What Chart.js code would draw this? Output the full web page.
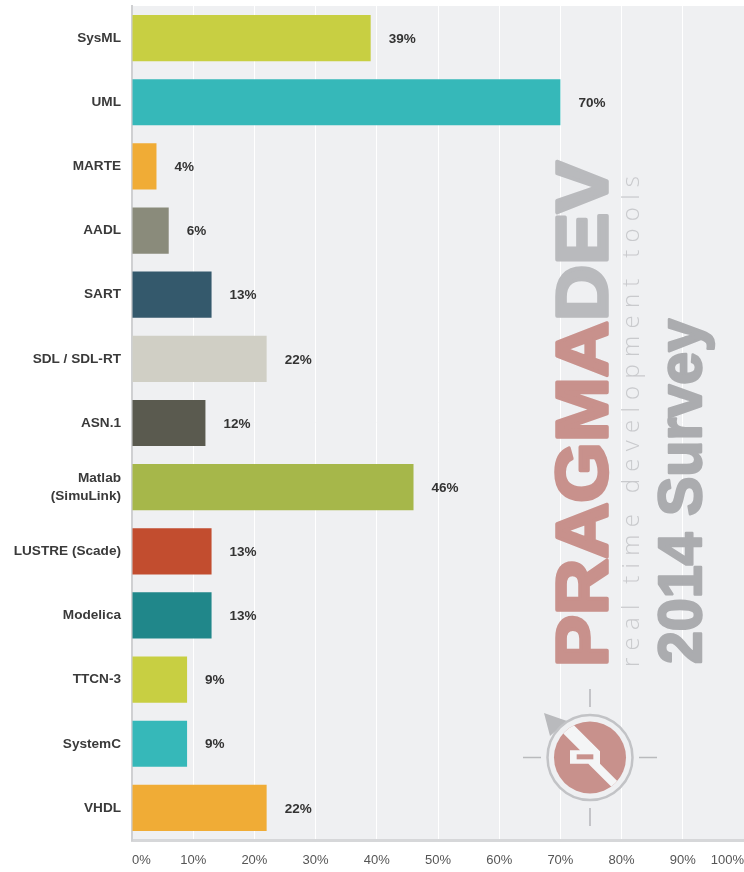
<!DOCTYPE html>
<html>
<head>
<meta charset="utf-8">
<script src="https://cdn.jsdelivr.net/npm/chart.js@4"></script>
<style>
  html, body { margin: 0; padding: 0; background: #ffffff; }
  #wrap { position: relative; width: 744px; height: 872px; }
</style>
</head>
<body>
<div id="wrap"><canvas id="c"></canvas></div>
<script>
// ---- data ----
const categories = ['SysML', 'UML', 'MARTE', 'AADL', 'SART', 'SDL / SDL-RT', 'ASN.1',
  ['Matlab', '(SimuLink)'], 'LUSTRE (Scade)', 'Modelica', 'TTCN-3', 'SystemC', 'VHDL'];
const values = [39, 70, 4, 6, 13, 22, 12, 46, 13, 13, 9, 9, 22];
const barColors = ['#c8cf42', '#36b8b9', '#f0ac36', '#8a8b7b', '#34596c', '#d0cfc5', '#5a5a4f',
  '#a6b74a', '#c24d2f', '#20878a', '#c8cf42', '#36b8b9', '#f0ac36'];
const xTickValues = [0, 10, 20, 30, 40, 50, 60, 70, 80, 90, 100];
const watermarkTitle = [['PRAGMA', '#c8918c'], ['DEV', '#b9babd']];
const watermarkTagline = 'real time development tools';
const watermarkSurvey = '2014 Survey';

const FONT = '"Liberation Sans", Arial, sans-serif';

function rotText(ctx, x, y, parts, font, targetLen, strokeW) {
  ctx.save();
  ctx.translate(x, y);
  ctx.rotate(-Math.PI / 2);
  ctx.font = font;
  ctx.textBaseline = 'alphabetic';
  ctx.textAlign = 'left';
  ctx.lineJoin = 'round';
  const full = parts.map(p => p[0]).join('');
  const w = ctx.measureText(full).width;
  ctx.scale(targetLen / w, 1);
  let off = 0;
  for (const [t, c] of parts) {
    ctx.fillStyle = c;
    ctx.strokeStyle = c;
    ctx.lineWidth = strokeW;
    ctx.fillText(t, off, 0);
    if (strokeW) ctx.strokeText(t, off, 0);
    off += ctx.measureText(t).width;
  }
  ctx.restore();
}

function spacedText(ctx, x, y, text, font, color, targetLen) {
  ctx.save();
  ctx.translate(x, y);
  ctx.rotate(-Math.PI / 2);
  ctx.font = font;
  ctx.fillStyle = color;
  ctx.textBaseline = 'alphabetic';
  ctx.textAlign = 'left';
  const chars = text.split('');
  const widths = chars.map(ch => ctx.measureText(ch).width);
  const sum = widths.reduce((a, b) => a + b, 0);
  const gap = (targetLen - sum) / (chars.length - 1);
  let off = 0;
  chars.forEach((ch, i) => { ctx.fillText(ch, off, 0); off += widths[i] + gap; });
  ctx.restore();
}

const bgPlugin = {
  id: 'plotBg',
  beforeDraw(chart) {
    const { ctx, chartArea: a } = chart;
    ctx.save();
    ctx.fillStyle = '#eff0f2';
    ctx.fillRect(a.left, a.top, a.right - a.left, a.bottom - a.top);
    ctx.restore();
  }
};

const watermarkPlugin = {
  id: 'watermark',
  beforeDatasetsDraw(chart) {
    const ctx = chart.ctx;
    rotText(ctx, 607, 667, watermarkTitle, 'bold 72px ' + FONT, 506, 3.5);
    spacedText(ctx, 639, 667, watermarkTagline, '300 24px "Open Sans", Lato, sans-serif', '#c9cacd', 491);
    rotText(ctx, 701, 664, [[watermarkSurvey, '#abacaf']], 'bold 62px ' + FONT, 345, 2.5);

    // logo
    const cx = 590, cy = 757.5;
    ctx.save();
    ctx.strokeStyle = '#b9babd';
    ctx.lineWidth = 1.6;
    ctx.beginPath();
    ctx.moveTo(cx, 689); ctx.lineTo(cx, 707);
    ctx.moveTo(cx, 808); ctx.lineTo(cx, 826);
    ctx.moveTo(523, cy); ctx.lineTo(541, cy);
    ctx.moveTo(639, cy); ctx.lineTo(657, cy);
    ctx.stroke();
    ctx.fillStyle = '#b9babd';
    ctx.beginPath();
    ctx.moveTo(544, 713); ctx.lineTo(567, 721); ctx.lineTo(550, 736); ctx.closePath();
    ctx.fill();
    ctx.beginPath(); ctx.arc(cx, cy, 42.5, 0, Math.PI * 2);
    ctx.fillStyle = '#eff0f2'; ctx.fill();
    ctx.strokeStyle = '#c2c3c6'; ctx.lineWidth = 2.5; ctx.stroke();
    ctx.beginPath(); ctx.arc(cx, cy, 36, 0, Math.PI * 2);
    ctx.fillStyle = '#c8918c'; ctx.fill();
    ctx.clip();
    const P = (zx, zy) => [555 + zx / 3, 722 + zy / 3];
    // white "Z" lightning band
    const poly = [[27, -20], [135, 88], [135, 125], [240, 230], [215, 240], [100, 125],
      [45, 125], [45, 85], [75, 85], [-30, -20]];
    ctx.beginPath();
    poly.forEach((p, i) => { const [sx, sy] = P(p[0], p[1]); i ? ctx.lineTo(sx, sy) : ctx.moveTo(sx, sy); });
    ctx.closePath();
    ctx.fillStyle = '#f4f5f6';
    ctx.fill();
    const [nx, ny] = P(65, 97), [nx2, ny2] = P(115, 112);
    ctx.fillStyle = '#c8918c';
    ctx.fillRect(nx, ny, nx2 - nx, ny2 - ny);
    ctx.restore();
  }
};

const valueLabelPlugin = {
  id: 'valueLabels',
  afterDatasetsDraw(chart) {
    const ctx = chart.ctx;
    const meta = chart.getDatasetMeta(0);
    ctx.save();
    ctx.font = 'bold 13.5px ' + FONT;
    ctx.fillStyle = '#333333';
    ctx.textAlign = 'left';
    ctx.textBaseline = 'middle';
    meta.data.forEach((bar, i) => {
      ctx.fillText(values[i] + '%', bar.x + 18, bar.y + 1);
    });
    ctx.restore();
  }
};

new Chart(document.getElementById('c'), {
  type: 'bar',
  data: {
    labels: categories,
    datasets: [{
      data: values,
      backgroundColor: barColors,
      borderWidth: 0,
      barPercentage: 0.72,
      categoryPercentage: 1.0
    }]
  },
  options: {
    indexAxis: 'y',
    responsive: true,
    maintainAspectRatio: false,
    animation: false,
    layout: { padding: { top: 6, right: 0, bottom: 0, left: 0 } },
    plugins: { legend: { display: false }, tooltip: { enabled: false } },
    scales: {
      x: {
        min: 0, max: 100,
        afterBuildTicks(scale) { scale.ticks = xTickValues.map(v => ({ value: v })); },
        afterFit(scale) { scale.height = 32; scale.paddingLeft = 0; scale.paddingRight = 0; },
        ticks: {
          align: 'inner',
          padding: 13,
          color: '#555555',
          font: { family: FONT, size: 13 },
          callback: v => v + '%'
        },
        grid: { color: '#ffffff', lineWidth: 1, drawTicks: false },
        border: { display: true, color: '#d6d7d9', width: 3 }
      },
      y: {
        afterFit(scale) { scale.width = 132; scale.paddingTop = 0; scale.paddingBottom = 0; },
        ticks: {
          padding: 11,
          color: '#3a3a3a',
          font: { family: FONT, size: 13.6, weight: 'bold', lineHeight: 1.35 }
        },
        grid: { display: false, drawTicks: false },
        border: { display: true, color: '#cfd0d2', width: 2 }
      }
    }
  },
  plugins: [bgPlugin, watermarkPlugin, valueLabelPlugin]
});
</script>
</body>
</html>
